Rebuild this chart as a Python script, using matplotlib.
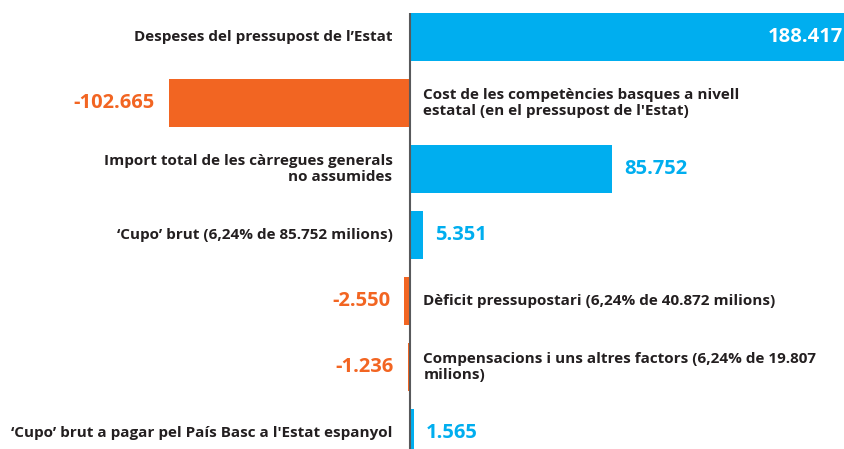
import matplotlib
matplotlib.use("Agg")
import matplotlib.pyplot as plt

categories = [
    "Despeses del pressupost de l\u2019Estat",
    "Cost de les compet\u00e8ncies basques a nivell\nestatal (en el pressupost de l'Estat)",
    "Import total de les c\u00e0rregues generals\nno assumides",
    "\u2018Cupo\u2019 brut (6,24% de 85.752 milions)",
    "D\u00e8ficit pressupostari (6,24% de 40.872 milions)",
    "Compensacions i uns altres factors (6,24% de 19.807\nmilions)",
    "\u2018Cupo\u2019 brut a pagar pel Pa\u00eds Basc a l'Estat espanyol",
]
values = [188.417, -102.665, 85.752, 5.351, -2.550, -1.236, 1.565]
value_labels = ["188.417", "-102.665", "85.752", "5.351", "-2.550", "-1.236", "1.565"]

BLUE = "#00AEEF"
ORANGE = "#F26522"
DARK = "#231F20"

plt.rcParams['font.family'] = ['Open Sans', 'DejaVu Sans']

fig = plt.figure(figsize=(8.44, 4.49), dpi=100)
ax = fig.add_axes([0, 0, 1, 1])
ax.set_xlim(-174.3, 184.1)
ax.set_ylim(6.242, -0.5606)
ax.axis('off')

ys = list(range(len(values)))
colors = [BLUE if v > 0 else ORANGE for v in values]
ax.barh(ys, values, height=0.727, color=colors, zorder=2)
ax.vlines(0, -0.364, 6.3, color="#58595B", lw=1.5, zorder=3)

LFS = 11
VFS = 14.5
for i, (v, cat, vl) in enumerate(zip(values, categories, value_labels)):
    if v > 0:
        ax.annotate(cat, (0, i), xytext=(-18, 0), textcoords='offset pixels',
                    ha='right', va='center', fontsize=LFS, fontweight='bold',
                    color=DARK, linespacing=1.25, multialignment='right')
        if i == 0:
            ax.annotate(vl, (1, i), xycoords=('axes fraction', 'data'), xytext=(-1, 0),
                        textcoords='offset pixels', ha='right', va='center',
                        fontsize=VFS, fontweight='bold', color='white', zorder=4)
        else:
            ax.annotate(vl, (v, i), xytext=(12, 0), textcoords='offset pixels',
                        ha='left', va='center', fontsize=VFS, fontweight='bold',
                        color=BLUE)
    else:
        ax.annotate(cat, (0, i), xytext=(13, 0), textcoords='offset pixels',
                    ha='left', va='center', fontsize=LFS, fontweight='bold',
                    color=DARK, linespacing=1.25, multialignment='left')
        ax.annotate(vl, (v, i), xytext=(-14, 0), textcoords='offset pixels',
                    ha='right', va='center', fontsize=VFS, fontweight='bold',
                    color=ORANGE)

fig.savefig("out.png", dpi=100)
